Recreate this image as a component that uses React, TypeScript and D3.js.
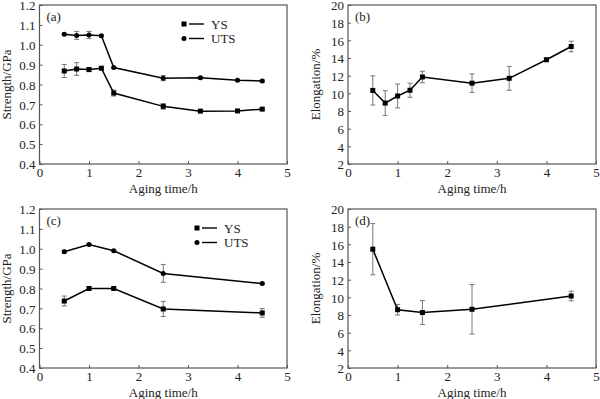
import * as d3 from "d3";
import { useEffect, useRef } from "react";

type Pt = { x: number; y: number; e: number };

// aging times
const timesA = [0.5, 0.75, 1.0, 1.25, 1.5, 2.5, 3.25, 4.0, 4.5];
const timesC = [0.5, 1.0, 1.5, 2.5, 4.5];

// (a) strength, GPa
const ysA = [0.868, 0.878, 0.875, 0.882, 0.757, 0.69, 0.666, 0.667, 0.676];
const ysAErr = [0.033, 0.032, 0.01, 0.006, 0.015, 0.014, 0.007, 0.005, 0.005];
const utsA = [1.053, 1.047, 1.049, 1.045, 0.885, 0.832, 0.834, 0.822, 0.818];
const utsAErr = [0.005, 0.02, 0.018, 0.005, 0.004, 0.013, 0.006, 0.005, 0.006];

// (b) elongation, %
const elB = [10.33, 8.9, 9.7, 10.35, 11.85, 11.15, 11.7, 13.8, 15.3];
const elBErr = [1.65, 1.4, 1.35, 0.8, 0.65, 1.05, 1.35, 0.2, 0.6];

// (c) strength, GPa
const ysC = [0.737, 0.8, 0.8, 0.697, 0.677];
const ysCErr = [0.025, 0.01, 0.004, 0.038, 0.022];
const utsC = [0.985, 1.021, 0.99, 0.876, 0.825];
const utsCErr = [0.008, 0.004, 0.004, 0.045, 0.005];

// (d) elongation, %
const elD = [15.45, 8.6, 8.28, 8.65, 10.15];
const elDErr = [2.9, 0.6, 1.35, 2.8, 0.55];

const strengthTicks = [0.4, 0.5, 0.6, 0.7, 0.8, 0.9, 1.0, 1.1, 1.2];
const elongTicks = [2, 4, 6, 8, 10, 12, 14, 16, 18, 20];
const timeTicks = [0, 1, 2, 3, 4, 5];

const FONT = "Liberation Serif";
const FS = 13;

const zip = (xs: number[], ys: number[], es: number[]): Pt[] =>
    xs.map((x, i) => ({ x, y: ys[i], e: es[i] }));

type Series = { pts: Pt[]; marker: "square" | "circle" };

type Panel = {
    label: string;
    left: number;
    right: number;
    top: number;
    bottom: number;
    yDomain: [number, number];
    yTicks: number[];
    yFmt: (d: number) => string;
    yTitle: string;
    series: Series[];
    legend?: { x: number; y: number };
};

export default function App() {
    const ref = useRef<SVGSVGElement | null>(null);

    useEffect(() => {
        if (!ref.current) return;
        const svg = d3.select(ref.current);
        svg.selectAll("*").remove();

        svg.append("rect").attr("width", 600).attr("height", 399).attr("fill", "#fff");

        const panels: Panel[] = [
            {
                label: "(a)", left: 39.5, right: 287, top: 5, bottom: 164,
                yDomain: [0.4, 1.2], yTicks: strengthTicks, yFmt: d3.format(".1f"),
                yTitle: "Strength/GPa",
                series: [
                    { pts: zip(timesA, ysA, ysAErr), marker: "square" },
                    { pts: zip(timesA, utsA, utsAErr), marker: "circle" },
                ],
                legend: { x: 184, y: 24 },
            },
            {
                label: "(b)", left: 348, right: 596, top: 5, bottom: 164,
                yDomain: [2, 20], yTicks: elongTicks, yFmt: d3.format("d"),
                yTitle: "Elongation/%",
                series: [{ pts: zip(timesA, elB, elBErr), marker: "square" }],
            },
            {
                label: "(c)", left: 39.5, right: 287, top: 209, bottom: 368,
                yDomain: [0.4, 1.2], yTicks: strengthTicks, yFmt: d3.format(".1f"),
                yTitle: "Strength/GPa",
                series: [
                    { pts: zip(timesC, ysC, ysCErr), marker: "square" },
                    { pts: zip(timesC, utsC, utsCErr), marker: "circle" },
                ],
                legend: { x: 197, y: 228 },
            },
            {
                label: "(d)", left: 348, right: 596, top: 209, bottom: 368,
                yDomain: [2, 20], yTicks: elongTicks, yFmt: d3.format("d"),
                yTitle: "Elongation/%",
                series: [{ pts: zip(timesC, elD, elDErr), marker: "square" }],
            },
        ];

        const drawMarker = (g: d3.Selection<SVGGElement, unknown, null, undefined>, kind: string, cx: number, cy: number) => {
            if (kind === "square") {
                g.append("rect")
                    .attr("x", cx - 2.5).attr("y", cy - 2.5)
                    .attr("width", 5).attr("height", 5)
                    .attr("fill", "#000");
            } else {
                g.append("circle").attr("cx", cx).attr("cy", cy).attr("r", 2.5).attr("fill", "#000");
            }
        };

        for (const p of panels) {
            const x = d3.scaleLinear().domain([0, 5]).range([p.left, p.right]);
            const y = d3.scaleLinear().domain(p.yDomain).range([p.bottom, p.top]);
            const g = svg.append("g");

            // frame
            g.append("rect")
                .attr("x", p.left).attr("y", p.top)
                .attr("width", p.right - p.left).attr("height", p.bottom - p.top)
                .attr("fill", "none").attr("stroke", "#555").attr("stroke-width", 1.2);

            // x axis
            const xAxis = g.append("g")
                .attr("transform", `translate(0,${p.bottom})`)
                .call(d3.axisBottom(x).tickValues(timeTicks).tickSize(-3).tickPadding(4).tickFormat(d3.format("d")));
            xAxis.select(".domain").remove();
            xAxis.selectAll("line").attr("stroke", "#555");
            xAxis.selectAll("text").style("font-family", FONT).style("font-size", `${FS}px`).attr("fill", "#222");

            // y axis
            const yAxis = g.append("g")
                .attr("transform", `translate(${p.left},0)`)
                .call(d3.axisLeft(y).tickValues(p.yTicks).tickSize(-3).tickPadding(4).tickFormat((d) => p.yFmt(+d)));
            yAxis.select(".domain").remove();
            yAxis.selectAll("line").attr("stroke", "#555");
            yAxis.selectAll("text").attr("dy", "0.36em")
                .style("font-family", FONT).style("font-size", `${FS}px`).attr("fill", "#222");

            // titles
            g.append("text")
                .attr("x", (p.left + p.right) / 2)
                .attr("y", p.bottom + 29)
                .attr("text-anchor", "middle")
                .style("font-family", FONT).style("font-size", `${FS}px`).attr("fill", "#222")
                .text("Aging time/h");
            g.append("text")
                .attr("transform", `translate(${p.left - 28.5},${(p.top + p.bottom) / 2}) rotate(-90)`)
                .attr("text-anchor", "middle")
                .style("font-family", FONT).style("font-size", `${FS}px`).attr("fill", "#222")
                .text(p.yTitle);
            g.append("text")
                .attr("x", p.left + 7)
                .attr("y", p.top + 16)
                .style("font-family", FONT).style("font-size", `${FS}px`).attr("fill", "#222")
                .text(p.label);

            const line = d3.line<Pt>().x((d) => x(d.x)).y((d) => y(d.y));

            for (const s of p.series) {
                // error bars
                for (const d of s.pts) {
                    const cx = x(d.x);
                    const y1 = y(d.y - d.e);
                    const y2 = y(d.y + d.e);
                    g.append("line").attr("x1", cx).attr("x2", cx).attr("y1", y1).attr("y2", y2)
                        .attr("stroke", "#777").attr("stroke-width", 1);
                    for (const yy of [y1, y2]) {
                        g.append("line").attr("x1", cx - 2.5).attr("x2", cx + 2.5).attr("y1", yy).attr("y2", yy)
                            .attr("stroke", "#777").attr("stroke-width", 1);
                    }
                }
                g.append("path")
                    .datum(s.pts)
                    .attr("fill", "none")
                    .attr("stroke", "#000")
                    .attr("stroke-width", 1.5)
                    .attr("d", line);
                for (const d of s.pts) drawMarker(g, s.marker, x(d.x), y(d.y));
            }

            if (p.legend) {
                const names = ["YS", "UTS"];
                names.forEach((name, i) => {
                    const ly = p.legend!.y + i * 14.5;
                    drawMarker(g, p.series[i].marker, p.legend!.x, ly);
                    g.append("line")
                        .attr("x1", p.legend!.x + 5).attr("x2", p.legend!.x + 20)
                        .attr("y1", ly).attr("y2", ly)
                        .attr("stroke", "#000").attr("stroke-width", 1.4);
                    g.append("text")
                        .attr("x", p.legend!.x + 27).attr("y", ly + 4.5)
                        .style("font-family", FONT).style("font-size", `${FS}px`).attr("fill", "#222")
                        .text(name);
                });
            }
        }
    }, []);

    return (
        <svg
            ref={ref}
            width={600}
            height={399}
            style={{ position: "absolute", left: 0, top: 0 }}
        ></svg>
    );
}
